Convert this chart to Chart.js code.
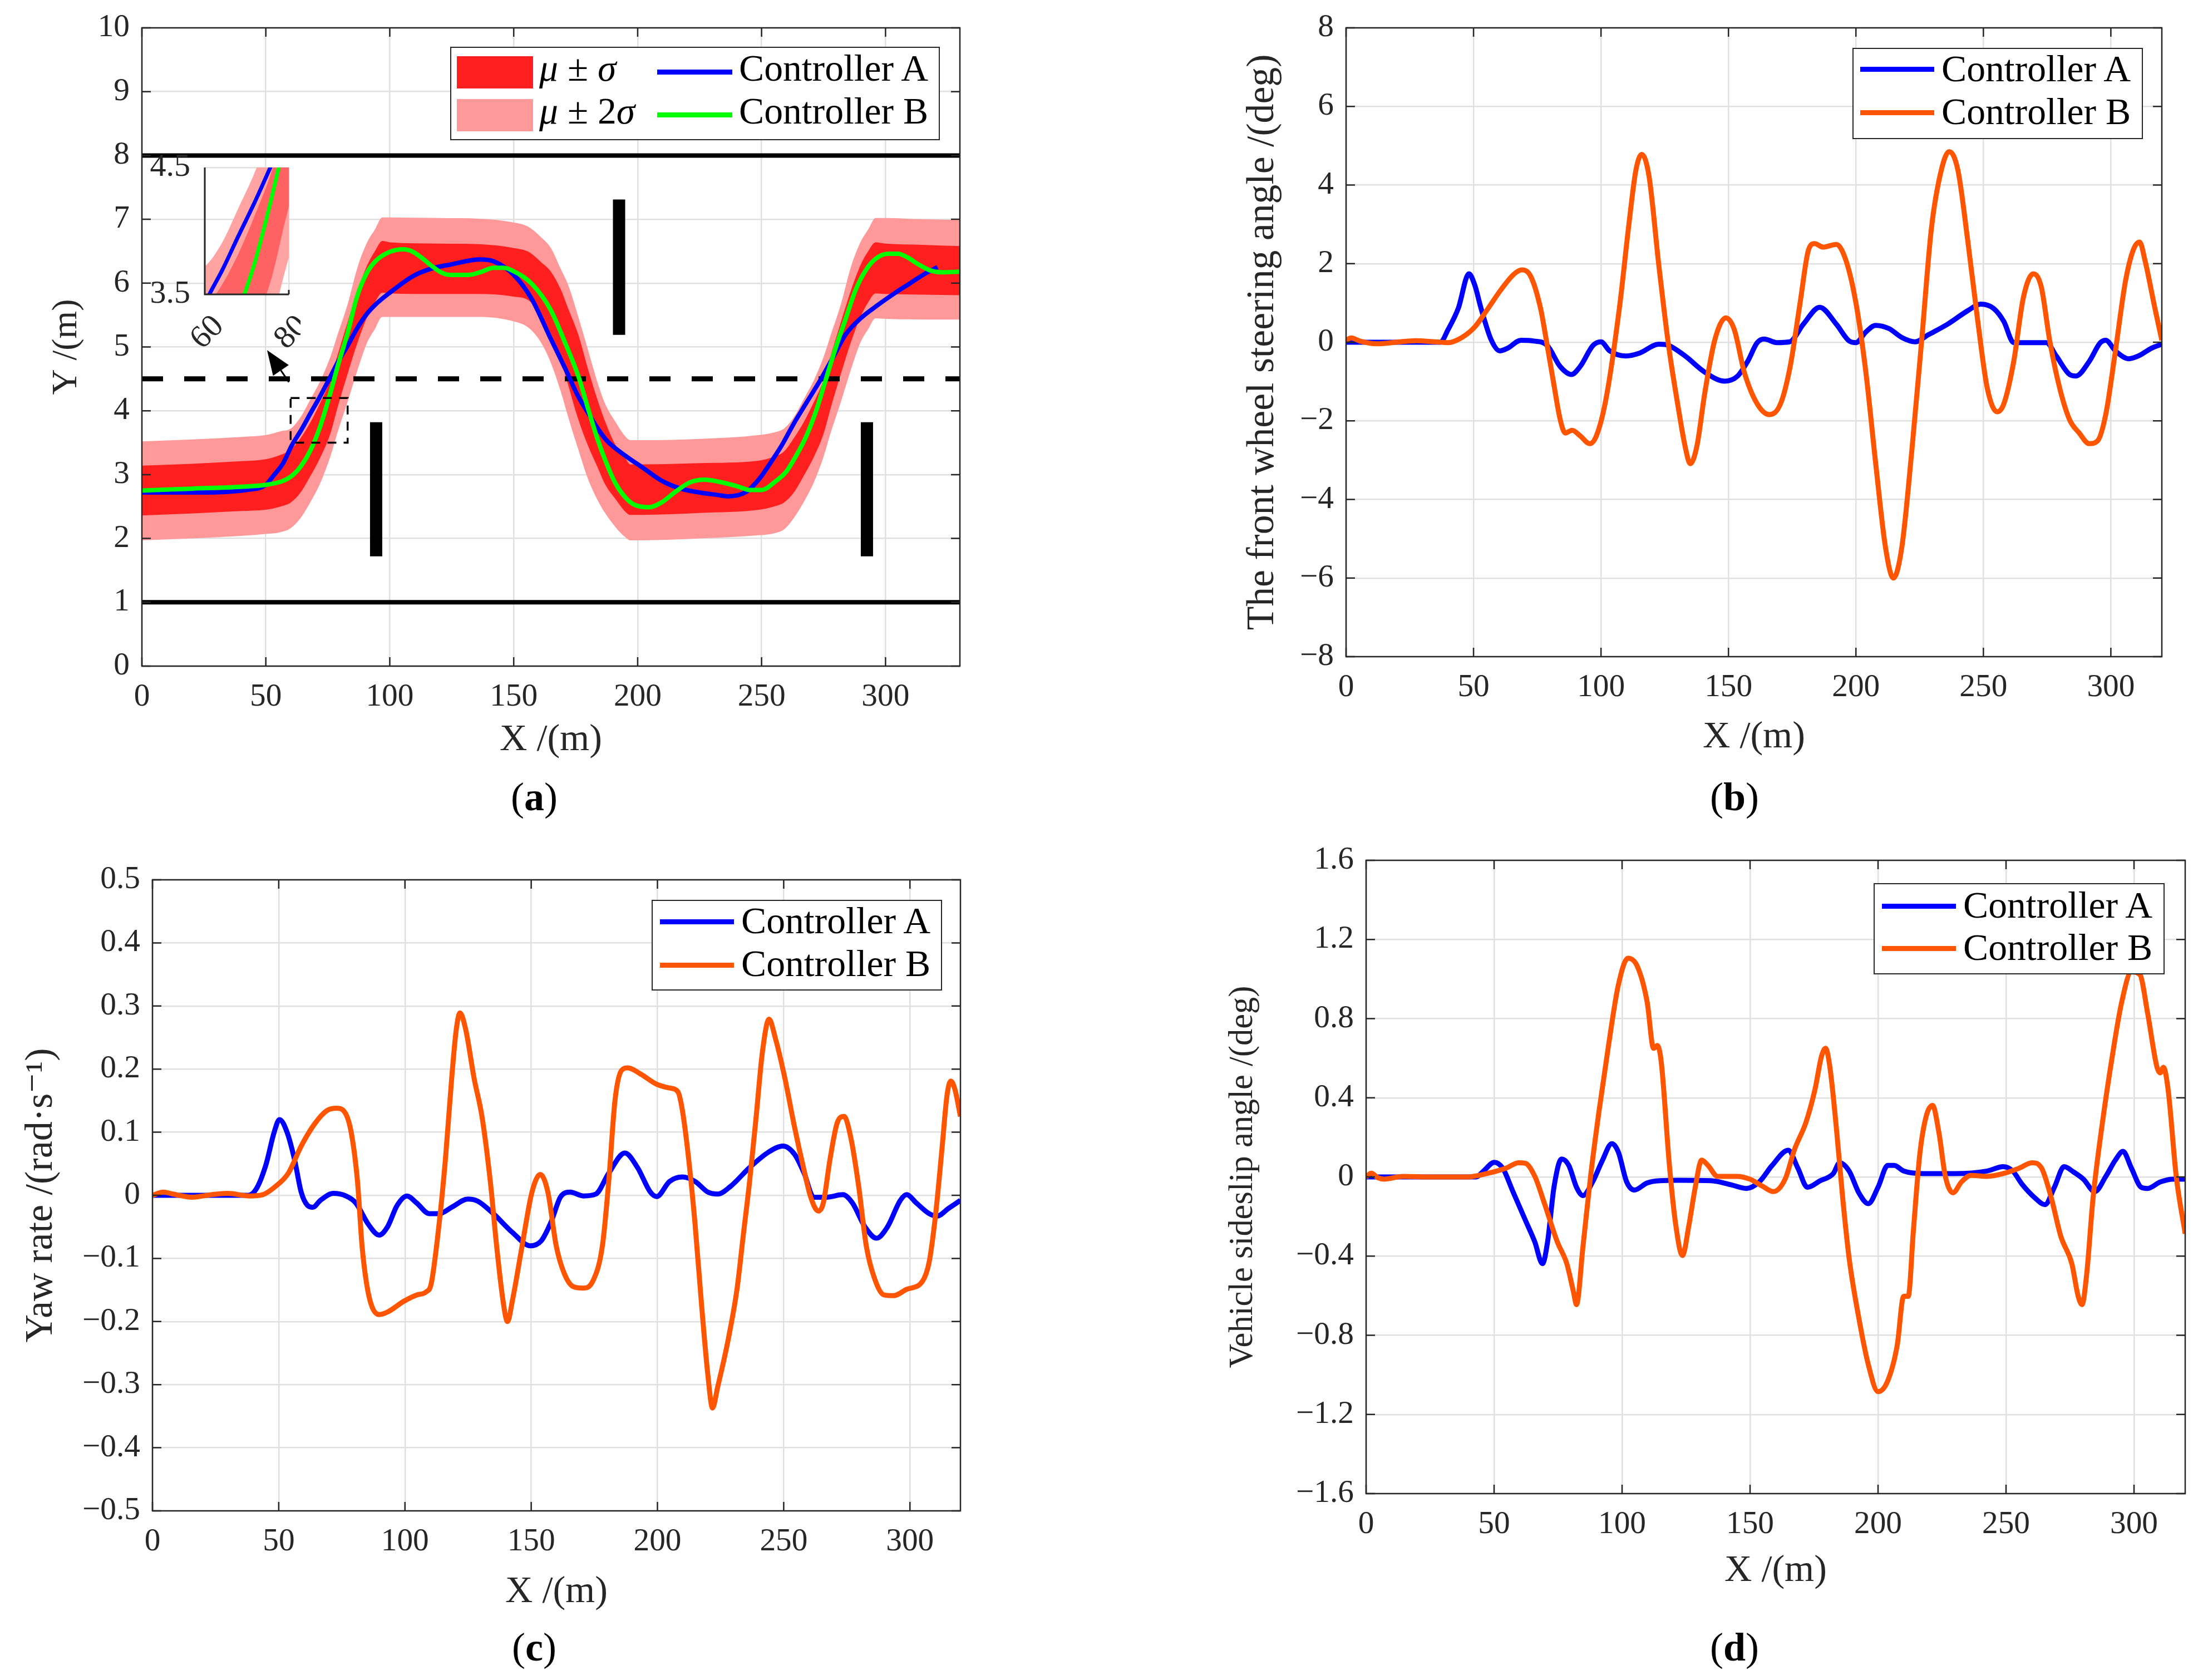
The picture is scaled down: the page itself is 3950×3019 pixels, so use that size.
<!DOCTYPE html>
<html><head><meta charset="utf-8">
<script src="https://cdn.jsdelivr.net/npm/chart.js@4.4.0/dist/chart.umd.min.js"></script>
<style>
html,body{margin:0;padding:0;background:#fff;}
body{width:3950px;height:3019px;position:relative;overflow:hidden;font-family:'Liberation Serif','DejaVu Serif','Noto Serif',serif;color:#000;}
canvas{position:absolute;}
.lg{position:absolute;box-sizing:border-box;border:2.5px solid #262626;background:#fff;font-size:64px;color:#000;}
.lg div{position:absolute;}
.lg .t{height:80px;line-height:80px;white-space:nowrap;}
.lab{position:absolute;font-size:68px;transform:translate(-50%,-50%);white-space:nowrap;color:#000;}
</style></head><body>
<canvas id="ca" width="1975" height="1509" style="left:0px;top:0px;"></canvas>
<canvas id="cb" width="1975" height="1509" style="left:1975px;top:0px;"></canvas>
<canvas id="cc" width="1975" height="1510" style="left:0px;top:1509px;"></canvas>
<canvas id="cd" width="1975" height="1510" style="left:1975px;top:1509px;"></canvas>
<canvas id="ci" width="300" height="420" style="left:240px;top:250px;"></canvas>

<div class="lg" style="left:809px;top:84px;width:880px;height:168px;">
  <div style="left:10px;top:15px;width:137px;height:58px;background:#FF1F1F"></div>
  <div class="t" style="left:158px;top:-3px;"><i>μ</i> ± <i>σ</i></div>
  <div style="left:370px;top:39px;width:135px;height:9px;background:#0000FF"></div>
  <div class="t" style="left:517px;top:-3px;">Controller A</div>
  <div style="left:10px;top:92px;width:137px;height:58px;background:#FF9999"></div>
  <div class="t" style="left:158px;top:74px;"><i>μ</i> ± 2<i>σ</i></div>
  <div style="left:370px;top:116px;width:135px;height:9px;background:#00FF00"></div>
  <div class="t" style="left:517px;top:74px;">Controller B</div>
</div>
<div class="lg" style="left:3329px;top:86px;width:522px;height:164px;">
  <div style="left:12px;top:32px;width:133px;height:9px;background:#0000FF"></div>
  <div class="t" style="left:158px;top:-4px;">Controller A</div>
  <div style="left:12px;top:110px;width:133px;height:9px;background:#FF5500"></div>
  <div class="t" style="left:158px;top:73px;">Controller B</div>
</div>
<div class="lg" style="left:1171px;top:1617px;width:522px;height:163px;">
  <div style="left:13px;top:33px;width:133px;height:9px;background:#0000FF"></div>
  <div class="t" style="left:159px;top:-4px;">Controller A</div>
  <div style="left:13px;top:111px;width:133px;height:9px;background:#FF5500"></div>
  <div class="t" style="left:159px;top:73px;">Controller B</div>
</div>
<div class="lg" style="left:3367px;top:1587px;width:523px;height:164px;">
  <div style="left:13px;top:35px;width:133px;height:9px;background:#0000FF"></div>
  <div class="t" style="left:159px;top:-2px;">Controller A</div>
  <div style="left:13px;top:111px;width:133px;height:9px;background:#FF5500"></div>
  <div class="t" style="left:159px;top:74px;">Controller B</div>
</div>

<div class="lab" style="left:960px;top:1432px;">(<b>a</b>)</div>
<div class="lab" style="left:3117px;top:1432px;">(<b>b</b>)</div>
<div class="lab" style="left:960px;top:2960px;">(<b>c</b>)</div>
<div class="lab" style="left:3117px;top:2960px;">(<b>d</b>)</div>

<script>
// ---------------- DATA ----------------
// (a) trajectory band (mu +/- sigma, mu +/- 2 sigma)
const bandX  = [0,20,40,50,56,60,64,68,72,76,79,83,87,91,94,97,100,120,136,150,156,161,165,169,172,176,180,184,187,191,195,197,202,225,249,255,259,263,267,271,275,278,282,286,290,293,296,300,315,330];
const sig2Hi = [3.52,3.55,3.59,3.62,3.68,3.72,3.9,4.18,4.47,4.84,5.2,5.67,6.25,6.65,6.84,7.03,7.03,7.02,7.01,6.95,6.88,6.72,6.55,6.22,5.97,5.48,4.95,4.42,4.1,3.83,3.6,3.54,3.54,3.56,3.62,3.66,3.72,3.9,4.18,4.47,4.84,5.2,5.67,6.25,6.65,6.84,7.02,7.02,7.0,6.99];
const sig1Hi = [3.14,3.17,3.21,3.24,3.31,3.39,3.57,3.82,4.13,4.48,4.88,5.39,5.88,6.29,6.5,6.66,6.64,6.62,6.61,6.55,6.49,6.33,6.18,5.9,5.6,5.2,4.65,4.15,3.82,3.47,3.26,3.16,3.16,3.18,3.22,3.28,3.36,3.57,3.82,4.13,4.48,4.88,5.39,5.88,6.29,6.5,6.64,6.62,6.6,6.58];
const sig1Lo = [2.36,2.39,2.43,2.45,2.5,2.56,2.72,2.98,3.27,3.64,4.06,4.58,5.07,5.48,5.7,5.85,5.84,5.83,5.83,5.79,5.73,5.5,5.2,4.8,4.4,3.87,3.45,3.1,2.84,2.62,2.42,2.37,2.37,2.4,2.45,2.5,2.56,2.72,2.98,3.27,3.64,4.06,4.58,5.07,5.48,5.7,5.84,5.83,5.82,5.81];
const sig2Lo = [1.97,2.0,2.04,2.07,2.1,2.16,2.32,2.57,2.87,3.28,3.67,4.14,4.64,5.08,5.28,5.47,5.47,5.47,5.47,5.4,5.3,5.07,4.75,4.3,3.9,3.4,2.93,2.59,2.39,2.18,2.02,1.97,1.97,2.0,2.05,2.08,2.14,2.32,2.57,2.87,3.28,3.67,4.14,4.64,5.08,5.28,5.45,5.44,5.43,5.43];
// (a) paths
const pathAX = [0,20,42,50,53,57,60.5,64.3,68,71.8,75.6,79.3,83,86.8,90.6,94.4,100,109.4,117,124.4,136.4,142,150,157.3,164.8,170.8,176.1,179.8,183.6,187.4,194.9,202.4,209.9,217.4,225,232.5,236.2,243.8,249,253,258,263,268,274,279,284,290,297,304,310,316,321];
const pathAY = [2.72,2.72,2.76,2.84,2.98,3.18,3.46,3.7,3.96,4.22,4.5,4.78,5.02,5.29,5.51,5.67,5.85,6.11,6.23,6.29,6.37,6.34,6.13,5.75,5.14,4.66,4.22,3.98,3.74,3.54,3.3,3.1,2.9,2.78,2.72,2.68,2.66,2.73,2.93,3.15,3.45,3.8,4.12,4.5,4.85,5.2,5.45,5.66,5.85,6.0,6.15,6.25];
const pathBX = [0,20,40,50,56.8,60.5,64.3,68,71.8,75.6,79.3,83,86.8,90.6,94.4,100,105.6,109.4,113.1,116.9,120.6,124.4,131.9,136.4,142,146,149.8,157.3,164.8,170.8,176.1,179.8,183.6,187.4,191.1,194.9,198.6,204.7,209.9,215.2,221.2,227.2,232.5,240,245.3,250,255.8,260,264,268,272,276,280,284,288,292,296,301,305,309,313,318,323,330];
const pathBY = [2.75,2.78,2.81,2.84,2.9,2.98,3.14,3.38,3.74,4.22,4.74,5.22,5.79,6.15,6.35,6.49,6.53,6.49,6.39,6.27,6.17,6.13,6.13,6.17,6.24,6.24,6.19,5.99,5.59,5.06,4.54,4.06,3.58,3.18,2.86,2.65,2.53,2.49,2.57,2.73,2.88,2.92,2.89,2.82,2.76,2.76,2.9,3.05,3.3,3.6,4.0,4.5,5.0,5.45,5.9,6.2,6.38,6.46,6.46,6.4,6.3,6.2,6.17,6.18];
// (a) road / obstacles / annotations
const laneYs = [1, 8];
const centerLineY = 4.5;
const roadXRange = [0, 330];
const obsX = [94.5, 192.5, 292.5];
const obsLow = [1.72, 5.19, 1.72];
const obsHigh = [3.82, 7.31, 3.82];
const zoomBoxX = [60, 83];
const zoomBoxY = [3.5, 4.2];
const arrowTail = [59.3, 4.45];
const arrowTip = [50.5, 4.95];

// (b) front wheel steering angle
const steerAX = [0,10,20,30,37,40,44,48.2,50.5,53,57,60.3,63.4,68.6,73.7,78.9,84,88.4,91.8,96.9,100,103.4,109.8,115,122.7,126.5,133,140.7,148.5,153.6,157.5,161.3,164,169,174,179.4,185.8,192.3,197.4,200,203.9,207.7,212.9,218,223.2,228.4,236,243.8,249,254,258,261.9,267,274.7,278.6,283.8,286.3,291.5,295.9,298,301.8,307,310.8,316,320];
const steerAY = [0,0,0,0,0,0.32,0.86,1.74,1.45,0.85,0.05,-0.22,-0.15,0.05,0.03,-0.08,-0.62,-0.82,-0.62,-0.08,0.01,-0.22,-0.35,-0.28,-0.05,-0.08,-0.35,-0.76,-0.99,-0.86,-0.49,-0.01,0.08,-0.01,0.01,0.46,0.89,0.46,0.03,-0.01,0.26,0.43,0.35,0.12,0.01,0.19,0.46,0.8,0.97,0.86,0.53,-0.01,-0.01,-0.01,-0.35,-0.82,-0.86,-0.49,-0.01,0.05,-0.22,-0.42,-0.35,-0.15,-0.05];
const steerBX = [0,2,5.4,11.9,19.6,27.3,35,40,45.4,50.5,55.7,60.8,66,69,72.4,76.3,78.9,81.4,84,86,88.7,91.8,95.6,98.2,102,107.2,111,113.7,116,118.8,122.7,126.5,130.4,133,135,137.6,140.7,144.6,149,152.3,156.2,161.3,166,170.4,174.2,178.1,181.4,183.8,187.1,192.3,196.1,200,203.9,207.7,211.6,214.7,218,221.9,225.8,229.6,233.5,236.6,240,243.8,247.7,251.5,255.4,258,261.9,265.7,269.6,272.7,276,279.9,283.8,287.6,291.5,294.8,298,301.8,305.7,308.8,311.3,313.4,317.3,320];
const steerBY = [0.05,0.11,0.03,-0.04,0,0.04,0.01,-0.01,0.12,0.39,0.86,1.34,1.74,1.84,1.68,0.86,-0.08,-1.03,-1.97,-2.31,-2.24,-2.38,-2.58,-2.38,-1.43,0.86,3.03,4.38,4.78,4.24,1.95,-0.08,-1.7,-2.65,-3.09,-2.65,-1.3,0.05,0.62,0.32,-0.76,-1.57,-1.84,-1.57,-0.62,1.0,2.35,2.51,2.42,2.49,2.08,1.0,-0.76,-3.05,-5.22,-6.0,-5.22,-2.78,0.05,2.89,4.38,4.85,4.38,2.62,0.59,-1.16,-1.77,-1.57,-0.49,1.14,1.74,1.41,0.05,-1.16,-1.97,-2.31,-2.58,-2.51,-1.84,-0.22,1.54,2.35,2.55,2.08,0.86,0.05];

// (c) yaw rate
const yawAX = [0,20,38,41.1,44.9,48.2,50.3,53.3,56.3,58.9,61.4,63.5,66.5,71.6,76.6,80.5,85.5,89.8,93.1,96.9,100.8,104.6,109.6,113.5,118.5,124.9,128.7,135,142.6,149.7,154,157.9,161.7,165.5,170.6,175.6,180.7,187.1,192.1,197.2,199.7,204.8,209.9,214.9,220,223.9,228.9,236.5,244.2,249.7,254.3,258.1,261.9,267,273.4,277.2,282.2,286.8,291.1,296.2,298.7,302.5,307.6,310.7,315.2,320];
const yawAY = [0,0,0,0.01,0.048,0.1,0.12,0.1,0.056,0.005,-0.016,-0.019,-0.008,0.003,-0.001,-0.012,-0.046,-0.063,-0.05,-0.016,-0.001,-0.012,-0.029,-0.029,-0.019,-0.006,-0.009,-0.029,-0.059,-0.08,-0.072,-0.042,-0.002,0.005,-0.001,0.002,0.035,0.067,0.044,0.005,-0.002,0.022,0.029,0.022,0.005,0.002,0.014,0.044,0.069,0.078,0.065,0.035,-0.003,-0.003,0.001,-0.012,-0.05,-0.068,-0.05,-0.008,0.001,-0.012,-0.029,-0.033,-0.021,-0.008];
const yawBX = [0,4.3,8.1,15.7,23.4,29.7,38.6,43.7,48.7,53.8,58.9,64,69,72.8,76.1,78.7,81.2,83,84.8,86.8,89.8,93.1,99.5,104.6,108.4,110.4,113.5,116,118.5,120.3,121.8,124.1,127.4,130.5,133.8,136.3,138.8,140.6,142.6,146.4,150.3,153.6,156.6,159.9,163,166.8,170.6,174.4,178.2,180.7,183.2,185.8,188.3,193.4,199.7,204.8,208.1,209.9,212.4,214.9,217.5,220,221.8,223.9,227.7,231.5,234,236.5,239.1,241.6,244.2,246.7,250.5,254.3,258.1,260.7,263.7,265.7,268.3,271.3,273.9,276.6,279.7,282.7,286,289.8,293.6,298.7,305,307.6,310.2,312.7,314.7,316.2,317.8,320];
const yawBY = [0,0.005,0.002,-0.003,0.001,0.003,-0.001,0.001,0.014,0.035,0.078,0.112,0.134,0.138,0.132,0.1,0.022,-0.08,-0.14,-0.175,-0.189,-0.185,-0.168,-0.158,-0.153,-0.14,-0.046,0.056,0.185,0.262,0.289,0.262,0.185,0.125,0.022,-0.08,-0.166,-0.2,-0.166,-0.08,0.005,0.033,0.005,-0.08,-0.123,-0.145,-0.147,-0.136,-0.08,0.022,0.151,0.198,0.202,0.192,0.176,0.17,0.164,0.134,0.056,-0.046,-0.175,-0.286,-0.337,-0.303,-0.235,-0.149,-0.063,0.022,0.125,0.228,0.279,0.249,0.185,0.108,0.039,-0.003,-0.025,-0.012,0.056,0.116,0.125,0.091,0.014,-0.08,-0.132,-0.158,-0.159,-0.149,-0.136,-0.106,-0.029,0.074,0.159,0.181,0.168,0.125];

// (d) vehicle sideslip angle
const slipAX = [0,20,43,45.9,50.1,53.4,57.1,62.2,65.9,68.9,70.9,73.4,76.4,79.2,82.2,84.7,88.5,92.2,96,98.5,101.8,104.8,109.8,114.8,122.3,134.8,142.4,148.6,153.6,158.6,164.9,168.7,172.4,177.4,182.5,185,188.7,192.5,196.2,200,203.8,206.3,210,217.5,230,242.6,248.9,252.6,256.4,261.4,265.2,268.9,272.7,276.4,280.2,284.7,289,292.7,295.7,299,302.8,305.3,310.3,315.3,320];
const slipAY = [0,0,0,0.03,0.074,0.044,-0.066,-0.218,-0.328,-0.438,-0.328,-0.052,0.091,0.058,-0.052,-0.094,-0.025,0.08,0.168,0.127,-0.025,-0.066,-0.03,-0.019,-0.017,-0.019,-0.039,-0.058,-0.025,0.058,0.135,0.044,-0.052,-0.019,0.017,0.072,0.03,-0.08,-0.135,-0.052,0.058,0.058,0.03,0.017,0.017,0.03,0.052,0.03,-0.039,-0.107,-0.14,-0.052,0.052,0.025,-0.011,-0.074,0.003,0.085,0.129,0.044,-0.052,-0.058,-0.025,-0.011,-0.011];
const slipBX = [0,2,4.5,7,14.5,24.6,39.6,47.2,54.6,59.6,62.2,65.9,69.7,74.7,78.4,81,82.2,84.7,87.7,91,94.7,98.5,102.3,106,109.8,112.3,113.8,115.3,118.5,121,123.6,126.1,128.6,131.1,133.6,137.3,144.9,149.9,154.9,159.1,163.7,167.4,171.9,175.4,177.9,179.5,181.2,183.7,186.2,188.7,192.5,196.2,200,203.8,207.5,210,211.8,213.8,216.3,218.8,221.3,223.8,226.3,229.3,232.6,236.3,242.6,248.9,255.1,260.2,263.9,267.7,271.4,275.7,278.2,279.7,281.5,284,287.7,291.5,295.2,299,302.3,305.3,309,310.3,311.5,313.3,316.5,320];
const slipBY = [0,0.019,-0.003,-0.011,0.003,0,0,0.017,0.044,0.072,0.069,0.003,-0.135,-0.328,-0.438,-0.58,-0.645,-0.355,0.003,0.333,0.664,0.967,1.105,1.063,0.884,0.65,0.664,0.581,0.058,-0.245,-0.397,-0.245,-0.052,0.085,0.058,0.003,0.003,-0.011,-0.047,-0.074,-0.011,0.14,0.278,0.444,0.609,0.65,0.554,0.25,-0.107,-0.41,-0.713,-0.948,-1.085,-1.03,-0.85,-0.603,-0.603,-0.273,0.113,0.306,0.361,0.223,0.003,-0.08,-0.025,0.008,0.003,0.017,0.044,0.072,0.044,-0.107,-0.3,-0.438,-0.603,-0.645,-0.493,-0.107,0.278,0.609,0.884,1.036,1.022,0.829,0.554,0.526,0.554,0.444,0.003,-0.287];

// tick values
const xTicksA = [0,50,100,150,200,250,300];
const yTicksA = [0,1,2,3,4,5,6,7,8,9,10];
const xTicksBCD = [0,50,100,150,200,250,300];
const yTicksB = [-8,-6,-4,-2,0,2,4,6,8];
const yTicksC = [-0.5,-0.4,-0.3,-0.2,-0.1,0,0.1,0.2,0.3,0.4,0.5];
const yTicksD = [-1.6,-1.2,-0.8,-0.4,0,0.4,0.8,1.2,1.6];
const insetXTicks = [60, 80];
const insetYTicks = [3.5, 4.5];

// ---------------- STYLE / HELPERS ----------------
const FAMILY = "'Liberation Serif','DejaVu Serif','Noto Serif',serif";
const GRID = '#E0E0E0', TXT = '#262626';
const BLUE = '#0000FF', GREEN = '#00FF00', ORANGE = '#FF5500';
const RED = '#FF1F1F', PINK = '#FF9999';
const RED_IN = '#FF6262', PINK_IN = '#FFA3A3';
Chart.defaults.font.family = FAMILY;
Chart.defaults.color = TXT;

// font sizes chosen so that text widths match the reference
const mctx = document.createElement('canvas').getContext('2d');
function fitSize(text, targetW, max) {
  mctx.font = '100px ' + FAMILY;
  const w = mctx.measureText(text).width;
  return Math.min(max, 100 * targetW / w);
}
const FS_TICK = fitSize('150', 86, 62);
const FS_INSET = fitSize('4.5', 74, 58);
const FS_LEG = fitSize('Controller A', 344, 68);
const FS_XT = fitSize('X /(m)', 184, 70);
const FS_YA = fitSize('Y /(m)', 172, 70);
const FS_YB = fitSize('The front wheel steering angle /(deg)', 1035, 70);
const FS_YC = fitSize('Yaw rate /(rad\u00B7s\u207B\u00B9)', 543, 70);
const FS_YD = fitSize('Vehicle sideslip angle /(deg)', 687, 70);
const FS_LAB = fitSize('(a)', 88, 72);
document.querySelectorAll('.lg').forEach(e => e.style.fontSize = FS_LEG + 'px');
document.querySelectorAll('.lab').forEach(e => e.style.fontSize = FS_LAB + 'px');

function pts(xs, ys) { return xs.map((x, i) => ({x: x, y: ys[i]})); }
function fmtInt(v) { return v < 0 ? '\u2212' + Math.abs(v) : String(v); }
function fmt1(v) { return Math.abs(v) < 1e-9 ? '0' : (v < 0 ? '\u2212' : '') + Math.abs(v).toFixed(1); }

function lineDS(data, color, width, order, extra) {
  return Object.assign({type: 'line', data: data, borderColor: color, backgroundColor: color,
    borderWidth: width, pointRadius: 0, fill: false, order: order,
    cubicInterpolationMode: 'monotone'}, extra || {});
}
function bandDS(data, color, fill, order) {
  return {type: 'line', data: data, borderColor: 'rgba(0,0,0,0)', backgroundColor: color,
    borderWidth: 0, pointRadius: 0, fill: fill, order: order, cubicInterpolationMode: 'monotone'};
}

function xScale(tickArr, min, max, h, titlePad, opts) {
  opts = opts || {};
  return {
    type: 'linear', min: min, max: max,
    afterBuildTicks: s => { s.ticks = tickArr.map(v => ({value: v})); },
    afterFit: s => { s.height = h; s.paddingLeft = 0; s.paddingRight = 0; },
    grid: {color: GRID, lineWidth: 2.5, drawTicks: false},
    border: {display: false},
    ticks: {display: opts.noLabels ? false : true, font: {size: FS_TICK}, color: TXT, padding: 22,
            maxRotation: 0, minRotation: 0, autoSkip: false, callback: v => fmtInt(v)},
    title: {display: !opts.noTitle, text: 'X /(m)', font: {size: FS_XT}, color: TXT,
            padding: {top: 0, bottom: titlePad}}
  };
}
function yScale(tickArr, min, max, w, text, titlePad, fmt, opts) {
  opts = opts || {};
  return {
    type: 'linear', min: min, max: max,
    afterBuildTicks: s => { s.ticks = tickArr.map(v => ({value: v})); },
    afterFit: s => { s.width = w; s.paddingTop = 0; s.paddingBottom = 0; },
    grid: {color: GRID, lineWidth: 2.5, drawTicks: false},
    border: {display: false},
    ticks: {font: {size: opts.tickSize || FS_TICK}, color: TXT, padding: opts.tickPad || 22,
            autoSkip: false, callback: v => fmt(v)},
    title: {display: !!text, text: text || '', font: {size: opts.titleSize || 66}, color: TXT,
            padding: {top: titlePad, bottom: 0}}
  };
}

// box with inward ticks on all sides
const boxPlugin = {
  id: 'box',
  afterDatasetsDraw(chart, args, o) {
    if (!o || !o.on) return;
    const ctx = chart.ctx, a = chart.chartArea, sx = chart.scales.x, sy = chart.scales.y;
    const L = 16;
    ctx.save();
    ctx.strokeStyle = TXT; ctx.lineWidth = 2.5; ctx.setLineDash([]);
    ctx.beginPath();
    sx.ticks.forEach(t => {
      const p = sx.getPixelForValue(t.value);
      ctx.moveTo(p, a.bottom); ctx.lineTo(p, a.bottom - L);
      ctx.moveTo(p, a.top); ctx.lineTo(p, a.top + L);
    });
    sy.ticks.forEach(t => {
      const p = sy.getPixelForValue(t.value);
      ctx.moveTo(a.left, p); ctx.lineTo(a.left + L, p);
      ctx.moveTo(a.right, p); ctx.lineTo(a.right - L, p);
    });
    ctx.stroke();
    ctx.strokeRect(a.left, a.top, a.right - a.left, a.bottom - a.top);
    ctx.restore();
  }
};

// zoom box and arrow in panel (a)
const annotPlugin = {
  id: 'annot',
  afterDatasetsDraw(chart) {
    const ctx = chart.ctx, sx = chart.scales.x, sy = chart.scales.y;
    ctx.save();
    const x0 = sx.getPixelForValue(zoomBoxX[0]), x1 = sx.getPixelForValue(zoomBoxX[1]);
    const y0 = sy.getPixelForValue(zoomBoxY[0]), y1 = sy.getPixelForValue(zoomBoxY[1]);
    ctx.strokeStyle = '#000'; ctx.lineWidth = 3.5; ctx.setLineDash([16, 13]);
    ctx.strokeRect(x0, y1, x1 - x0, y0 - y1);
    ctx.setLineDash([]);
    const tx = sx.getPixelForValue(arrowTail[0]), ty = sy.getPixelForValue(arrowTail[1]);
    const hx = sx.getPixelForValue(arrowTip[0]), hy = sy.getPixelForValue(arrowTip[1]);
    const ang = Math.atan2(hy - ty, hx - tx), len = 44, hw = 17;
    const bx = hx - len * Math.cos(ang), by = hy - len * Math.sin(ang);
    ctx.lineWidth = 3;
    ctx.beginPath(); ctx.moveTo(tx, ty); ctx.lineTo(bx, by); ctx.stroke();
    ctx.fillStyle = '#000';
    ctx.beginPath();
    ctx.moveTo(hx, hy);
    ctx.lineTo(bx + hw * Math.sin(ang), by - hw * Math.cos(ang));
    ctx.lineTo(bx - hw * Math.sin(ang), by + hw * Math.cos(ang));
    ctx.closePath(); ctx.fill();
    ctx.restore();
  }
};

// inset axes: left + bottom lines and rotated x labels
const insetPlugin = {
  id: 'insetAxes',
  afterDatasetsDraw(chart) {
    const ctx = chart.ctx, a = chart.chartArea, sx = chart.scales.x;
    ctx.save();
    ctx.strokeStyle = TXT; ctx.lineWidth = 3;
    ctx.beginPath(); ctx.moveTo(a.left, a.top); ctx.lineTo(a.left, a.bottom); ctx.lineTo(a.right, a.bottom); ctx.stroke();
    ctx.beginPath(); ctx.moveTo(a.right, a.bottom); ctx.lineTo(a.right, a.bottom - 8); ctx.stroke();
    ctx.fillStyle = TXT; ctx.font = FS_INSET + 'px ' + FAMILY;
    ctx.textAlign = 'center'; ctx.textBaseline = 'middle';
    insetXTicks.forEach(v => {
      const p = sx.getPixelForValue(v);
      ctx.save(); ctx.translate(p + 5, a.bottom + 69); ctx.rotate(-Math.PI / 4);
      ctx.fillText(fmtInt(v), 0, 0); ctx.restore();
    });
    ctx.restore();
  }
};

function makeChart(id, datasets, scales, padding, plugins, boxOn) {
  return new Chart(document.getElementById(id), {
    type: 'line',
    data: {datasets: datasets},
    options: {
      responsive: false, animation: false, events: [],
      layout: {padding: padding},
      plugins: {legend: {display: false}, tooltip: {enabled: false}, box: {on: boxOn}},
      scales: scales
    },
    plugins: plugins
  });
}

// ---------------- PANEL (a) ----------------
const dsA = [
  bandDS(pts(bandX, sig2Hi), PINK, '+1', 20),
  bandDS(pts(bandX, sig2Lo), PINK, false, 20),
  bandDS(pts(bandX, sig1Hi), RED, '+1', 19),
  bandDS(pts(bandX, sig1Lo), RED, false, 19)
];
laneYs.forEach(yv => dsA.push(lineDS(roadXRange.map(xv => ({x: xv, y: yv})), '#000', 8, 10, {cubicInterpolationMode: 'default'})));
dsA.push(lineDS(roadXRange.map(xv => ({x: xv, y: centerLineY})), '#000', 9, 10, {borderDash: [38, 38], borderCapStyle: 'butt', cubicInterpolationMode: 'default'}));
obsX.forEach((xv, i) => dsA.push(lineDS([{x: xv, y: obsLow[i]}, {x: xv, y: obsHigh[i]}], '#000', 22, 10, {borderCapStyle: 'butt', cubicInterpolationMode: 'default'})));
dsA.push(lineDS(pts(pathAX, pathAY), BLUE, 8, 2));
dsA.push(lineDS(pts(pathBX, pathBY), GREEN, 8, 1));

makeChart('ca', dsA, {
  x: xScale(xTicksA, 0, 330, 312, 138),
  y: yScale(yTicksA, 0, 10, 255, 'Y /(m)', 82, fmtInt, {titleSize: FS_YA})
}, {top: 50, right: 250, left: 0, bottom: 0}, [boxPlugin, annotPlugin], true);

// ---------------- INSET ----------------
const dsI = [
  bandDS(pts(bandX, sig2Hi), PINK_IN, '+1', 20),
  bandDS(pts(bandX, sig2Lo), PINK_IN, false, 20),
  bandDS(pts(bandX, sig1Hi), RED_IN, '+1', 19),
  bandDS(pts(bandX, sig1Lo), RED_IN, false, 19),
  lineDS(pts(pathAX, pathAY), BLUE, 7, 2, {clip: 0}),
  lineDS(pts(pathBX, pathBY), GREEN, 7, 1, {clip: 0})
];
makeChart('ci', dsI, {
  x: xScale(insetXTicks, 60, 80, 141, 0, {noLabels: true, noTitle: true}),
  y: yScale(insetYTicks, 3.5, 4.5, 128, '', 0, fmt1, {tickSize: FS_INSET, tickPad: 26})
}, {top: 51, right: 21, left: 0, bottom: 0}, [insetPlugin], false);

// ---------------- PANEL (b) ----------------
makeChart('cb', [
  lineDS(pts(steerAX, steerAY), BLUE, 9, 2),
  lineDS(pts(steerBX, steerBY), ORANGE, 9, 1)
], {
  x: xScale(xTicksBCD, 0, 320, 329, 143),
  y: yScale(yTicksB, -8, 8, 444, 'The front wheel steering angle /(deg)', 253, fmtInt, {titleSize: FS_YB})
}, {top: 50, right: 65, left: 0, bottom: 0}, [boxPlugin], true);

// ---------------- PANEL (c) ----------------
makeChart('cc', [
  lineDS(pts(yawAX, yawAY), BLUE, 9, 2),
  lineDS(pts(yawBX, yawBY), ORANGE, 9, 1)
], {
  x: xScale(xTicksBCD, 0, 320, 304, 117),
  y: yScale(yTicksC, -0.5, 0.5, 274, 'Yaw rate /(rad\u00B7s\u207B\u00B9)', 33, fmt1, {titleSize: FS_YC})
}, {top: 72, right: 249, left: 0, bottom: 0}, [boxPlugin], true);

// ---------------- PANEL (d) ----------------
makeChart('cd', [
  lineDS(pts(slipAX, slipAY), BLUE, 9, 2),
  lineDS(pts(slipBX, slipBY), ORANGE, 9, 1)
], {
  x: xScale(xTicksBCD, 0, 320, 335, 155),
  y: yScale(yTicksD, -1.6, 1.6, 480, 'Vehicle sideslip angle /(deg)', 223, fmt1, {titleSize: FS_YD})
}, {top: 37, right: 23, left: 0, bottom: 0}, [boxPlugin], true);
</script>
</body></html>
